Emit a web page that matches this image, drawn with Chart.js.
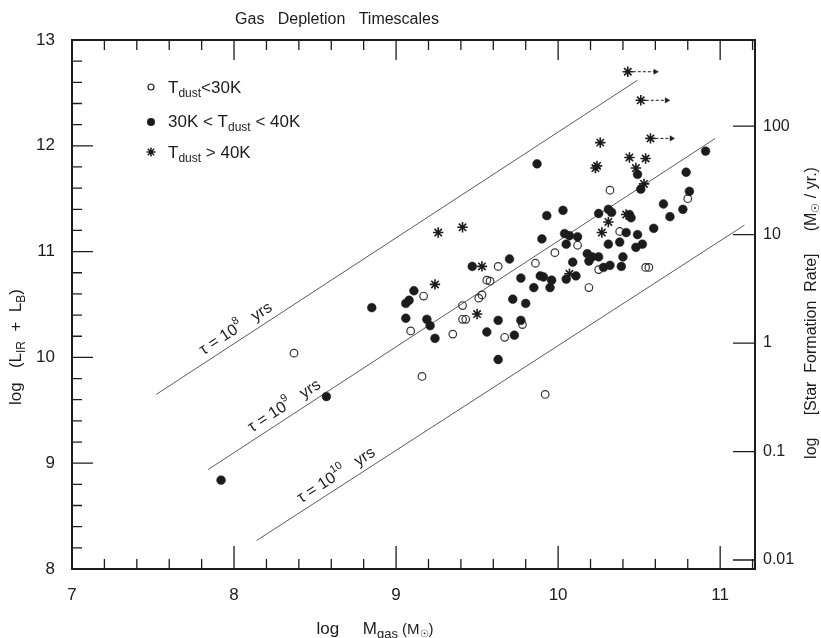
<!DOCTYPE html>
<html>
<head>
<meta charset="utf-8">
<script src="https://cdn.jsdelivr.net/npm/chart.js@4.4.1/dist/chart.umd.min.js"></script>
<style>
  html, body { margin: 0; padding: 0; background: #fff; }
</style>
</head>
<body>
<canvas id="chart" width="821" height="638"></canvas>
<script>
// ==================== DATA ====================
// T_dust < 30K  (open circles)
const coolMgas = [8.37, 9.16, 9.17, 9.09, 9.35, 9.41, 9.41, 9.43, 9.51, 9.53, 9.56, 9.58, 9.63,
  9.67, 9.78, 9.86, 9.98, 9.92, 10.12, 10.19, 10.25, 10.32, 10.38, 10.54, 10.56, 10.80];
const coolLum = [10.04, 9.82, 10.58, 10.25, 10.22, 10.49, 10.36, 10.36, 10.56, 10.59, 10.73, 10.72, 10.86,
  10.19, 10.31, 10.89, 10.99, 9.65, 11.06, 10.66, 10.83, 11.58, 11.19, 10.85, 10.85, 11.50];

// 30K < T_dust < 40K  (filled circles)
const warmMgas = [7.92, 8.57, 8.85, 9.06, 9.08, 9.11, 9.06, 9.19, 9.21, 9.24, 9.47, 9.56, 9.63, 9.63,
  9.70, 9.72, 9.73, 9.77, 9.80, 9.77, 9.85, 9.87, 9.90, 9.89, 9.91, 9.93, 9.95, 9.96, 10.03, 10.04,
  10.07, 10.05, 10.12, 10.09, 10.05, 10.11, 10.18, 10.21, 10.19, 10.25, 10.28, 10.32, 10.40, 10.39,
  10.25, 10.31, 10.33, 10.42, 10.49, 10.31, 10.38, 10.44, 10.45, 10.48, 10.52, 10.59, 10.65, 10.69,
  10.77, 10.49, 10.51, 10.79, 10.81, 10.91];
const warmLum = [8.84, 9.63, 10.47, 10.51, 10.54, 10.63, 10.37, 10.36, 10.30, 10.18, 10.86, 10.24, 9.98, 10.35,
  10.93, 10.55, 10.21, 10.35, 10.51, 10.75, 10.66, 11.83, 11.12, 10.77, 10.76, 11.34, 10.66, 10.73, 11.39, 11.17,
  11.15, 11.07, 11.14, 10.90, 10.74, 10.77, 10.98, 10.95, 10.91, 10.95, 10.85, 10.87, 10.95, 10.86,
  11.36, 11.40, 11.37, 11.18, 11.16, 11.07, 11.09, 11.35, 11.32, 11.04, 11.07, 11.22, 11.45, 11.33,
  11.40, 11.73, 11.59, 11.75, 11.57, 11.95];

// T_dust > 40K  (asterisks)
const hotMgas = [9.24, 9.50, 9.53, 9.26, 9.41, 10.07, 10.27, 10.31, 10.42, 10.26, 10.24, 10.23,
  10.44, 10.54, 10.48, 10.53];
const hotLum = [10.69, 10.41, 10.86, 11.18, 11.23, 10.79, 11.18, 11.28, 11.35, 12.03, 11.81, 11.79,
  11.89, 11.88, 11.79, 11.64];

// T_dust > 40K with lower limits on the gas mass (asterisk + arrow)
const limitMgas = [10.43, 10.51, 10.57];
const limitLum = [12.70, 12.43, 12.07];
const limitArrowTo = [10.60, 10.67, 10.70];

// constant depletion time lines
const tauExponents = ['8', '9', '10'];
const tauMgas = [[7.52, 10.49], [7.84, 10.97], [8.14, 11.15]];
const tauLum = [[9.65, 12.62], [8.94, 12.07], [8.27, 11.25]];

// axes
const xTickValues = [7, 8, 9, 10, 11];
const xTickLabels = ['7', '8', '9', '10', '11'];
const yTickValues = [8, 9, 10, 11, 12, 13];
const yTickLabels = ['8', '9', '10', '11', '12', '13'];
const sfrTickValues = [-2, -1, 0, 1, 2];
const sfrTickLabels = ['0.01', '0.1', '1', '10', '100'];

// ==================== STYLE ====================
const INK = '#1c1c1c';
const LINE = '#5a5a5a';
const FONT = '"Liberation Sans", Arial, sans-serif';
const MINOR = 0.2;

const font = (size) => `${size}px ${FONT}`;

function drawRich(ctx, parts, x, y, align) {
  let w = 0;
  parts.forEach((p) => {
    ctx.font = font(p.size);
    p.w = ctx.measureText(p.t).width;
    w += p.w;
  });
  let cx = align === 'center' ? x - w / 2 : align === 'right' ? x - w : x;
  parts.forEach((p) => {
    ctx.font = font(p.size);
    ctx.fillText(p.t, cx, y + (p.dy || 0));
    cx += p.w;
  });
}

const isMajor = (v) => Math.abs(v - Math.round(v)) < 1e-6;

// frame and inward ticks
const framePlugin = {
  id: 'frame',
  afterDatasetsDraw(chart) {
    const { ctx, chartArea: a } = chart;
    const sx = chart.scales.x, sy = chart.scales.y, ss = chart.scales.sfr;
    ctx.save();
    ctx.strokeStyle = INK;
    ctx.lineWidth = 1.3;
    ctx.beginPath();
    for (let k = 0; ; k++) {
      const v = sx.min + k * MINOR;
      if (v > sx.max + 1e-9) break;
      const px = sx.getPixelForValue(v);
      ctx.moveTo(px, a.bottom);
      ctx.lineTo(px, a.bottom - (isMajor(v) ? 23 : 10));
      ctx.moveTo(px, a.top);
      ctx.lineTo(px, a.top + (isMajor(v) ? 20 : 10));
    }
    for (let k = 0; ; k++) {
      const v = sy.min + k * MINOR;
      if (v > sy.max + 1e-9) break;
      const py = sy.getPixelForValue(v);
      ctx.moveTo(a.left, py);
      ctx.lineTo(a.left + (isMajor(v) ? 21 : 10), py);
    }
    sfrTickValues.forEach((v) => {
      const py = ss.getPixelForValue(v);
      ctx.moveTo(a.right, py);
      ctx.lineTo(a.right - 22, py);
    });
    ctx.stroke();
    ctx.lineWidth = 2;
    ctx.strokeRect(a.left, a.top, a.right - a.left, a.bottom - a.top);
    ctx.restore();
  },
};

// titles, legend and line labels (need sub/superscripts)
const textPlugin = {
  id: 'texts',
  afterDraw(chart) {
    const { ctx, chartArea: a } = chart;
    const sx = chart.scales.x, sy = chart.scales.y;
    ctx.save();
    ctx.fillStyle = INK;
    ctx.strokeStyle = INK;
    ctx.textBaseline = 'alphabetic';

    // main title
    drawRich(ctx, [{ t: 'Gas   Depletion   Timescales', size: 16 }], 337, 24, 'center');

    // x title
    drawRich(ctx, [
      { t: 'log     M', size: 17 },
      { t: 'gas', size: 13, dy: 4 },
      { t: ' (M', size: 15 },
      { t: '☉', size: 10, dy: 3 },
      { t: ')', size: 15 },
    ], 375, 634, 'center');

    // left title
    ctx.save();
    ctx.translate(21, 347);
    ctx.rotate(-Math.PI / 2);
    drawRich(ctx, [
      { t: 'log   (L', size: 17 },
      { t: 'IR', size: 12, dy: 4 },
      { t: '  +  L', size: 17 },
      { t: 'B', size: 12, dy: 4 },
      { t: ')', size: 17 },
    ], 0, 0, 'center');
    ctx.restore();

    // right title
    ctx.save();
    ctx.translate(816, 313);
    ctx.rotate(-Math.PI / 2);
    drawRich(ctx, [
      { t: 'log     [Star  Formation  Rate]     (M', size: 16 },
      { t: '☉', size: 11, dy: 3 },
      { t: ' / yr.)', size: 16 },
    ], 0, 0, 'center');
    ctx.restore();

    // legend
    const lx = a.left + 79, tx = a.left + 96;
    ctx.lineWidth = 1.2;
    ctx.beginPath();
    ctx.arc(lx, a.top + 47, 3, 0, Math.PI * 2);
    ctx.stroke();
    ctx.beginPath();
    ctx.arc(lx, a.top + 82, 4, 0, Math.PI * 2);
    ctx.fill();
    ctx.lineWidth = 1.5;
    ctx.beginPath();
    for (let k = 0; k < 4; k++) {
      const ang = (k * Math.PI) / 4;
      ctx.moveTo(lx - 4.5 * Math.cos(ang), a.top + 112 - 4.5 * Math.sin(ang));
      ctx.lineTo(lx + 4.5 * Math.cos(ang), a.top + 112 + 4.5 * Math.sin(ang));
    }
    ctx.stroke();
    drawRich(ctx, [{ t: 'T', size: 17 }, { t: 'dust', size: 12, dy: 4 }, { t: '<30K', size: 17 }], tx, a.top + 53, 'left');
    drawRich(ctx, [{ t: '30K < T', size: 17 }, { t: 'dust', size: 12, dy: 4 }, { t: ' < 40K', size: 17 }], tx, a.top + 87, 'left');
    drawRich(ctx, [{ t: 'T', size: 17 }, { t: 'dust', size: 12, dy: 4 }, { t: ' > 40K', size: 17 }], tx, a.top + 118, 'left');

    // tau labels sitting on the lines
    const labelAt = [8.05, 8.35, 8.67];
    tauExponents.forEach((e, i) => {
      const x0 = sx.getPixelForValue(tauMgas[i][0]), y0 = sy.getPixelForValue(tauLum[i][0]);
      const x1 = sx.getPixelForValue(tauMgas[i][1]), y1 = sy.getPixelForValue(tauLum[i][1]);
      const ang = Math.atan2(y1 - y0, x1 - x0);
      const f = (labelAt[i] - tauMgas[i][0]) / (tauMgas[i][1] - tauMgas[i][0]);
      ctx.save();
      ctx.translate(x0 + f * (x1 - x0), y0 + f * (y1 - y0));
      ctx.rotate(ang);
      drawRich(ctx, [
        { t: 'τ = 10', size: 16 },
        { t: e, size: 11, dy: -8 },
        { t: '   yrs', size: 16 },
      ], 0, -7, 'center');
      ctx.restore();
    });
    ctx.restore();
  },
};

const pts = (xs, ys) => xs.map((x, i) => ({ x, y: ys[i] }));

const datasets = [
  {
    label: '30K < Tdust < 40K',
    data: pts(warmMgas, warmLum),
    pointStyle: 'circle',
    pointRadius: 4.4,
    backgroundColor: INK,
    borderColor: INK,
    borderWidth: 0.5,
    order: 1,
  },
  {
    label: 'Tdust < 30K',
    data: pts(coolMgas, coolLum),
    pointStyle: 'circle',
    pointRadius: 3.8,
    backgroundColor: 'rgba(0,0,0,0)',
    borderColor: '#333',
    borderWidth: 1.2,
    order: 1,
  },
  {
    label: 'Tdust > 40K',
    data: pts(hotMgas.concat(limitMgas), hotLum.concat(limitLum)),
    pointStyle: 'star',
    pointRadius: 5.2,
    borderColor: INK,
    borderWidth: 1.6,
    order: 1,
  },
  {
    label: 'arrow heads',
    data: pts(limitArrowTo, limitLum),
    pointStyle: 'triangle',
    rotation: 90,
    pointRadius: 3,
    backgroundColor: INK,
    borderColor: INK,
    borderWidth: 0.5,
    order: 1,
  },
];
limitMgas.forEach((x, i) => {
  datasets.push({
    type: 'line',
    label: 'limit ' + i,
    data: [{ x, y: limitLum[i] }, { x: limitArrowTo[i], y: limitLum[i] }],
    borderColor: INK,
    borderWidth: 1,
    borderDash: [3, 2],
    pointRadius: 0,
    order: 3,
  });
});
tauExponents.forEach((e, i) => {
  datasets.push({
    type: 'line',
    label: 'tau 10^' + e,
    data: pts(tauMgas[i], tauLum[i]),
    borderColor: LINE,
    borderWidth: 1,
    pointRadius: 0,
    order: 5,
  });
});

const tickFont = { family: FONT, size: 17 };

new Chart(document.getElementById('chart'), {
  type: 'scatter',
  data: { datasets },
  options: {
    responsive: false,
    animation: false,
    devicePixelRatio: 1,
    layout: { padding: { top: 40, left: 0, right: 0, bottom: 0 } },
    plugins: { legend: { display: false }, tooltip: { enabled: false } },
    scales: {
      x: {
        type: 'linear',
        position: 'bottom',
        min: 7,
        max: 11.215,
        afterBuildTicks: (s) => { s.ticks = xTickValues.map((v) => ({ value: v })); },
        afterFit: (s) => { s.height = 69; },
        grid: { display: false, drawTicks: false },
        border: { display: false },
        ticks: {
          autoSkip: false,
          maxRotation: 0,
          padding: 16,
          color: INK,
          font: tickFont,
          callback: (v) => xTickLabels[xTickValues.indexOf(v)],
        },
      },
      y: {
        type: 'linear',
        position: 'left',
        min: 8,
        max: 13,
        afterBuildTicks: (s) => { s.ticks = yTickValues.map((v) => ({ value: v })); },
        afterFit: (s) => { s.width = 72; },
        grid: { display: false, drawTicks: false },
        border: { display: false },
        ticks: {
          autoSkip: false,
          padding: 17,
          color: INK,
          font: tickFont,
          callback: (v) => yTickLabels[yTickValues.indexOf(v)],
        },
      },
      sfr: {
        type: 'linear',
        position: 'right',
        min: -2.083,
        max: 2.794,
        afterBuildTicks: (s) => { s.ticks = sfrTickValues.map((v) => ({ value: v })); },
        afterFit: (s) => { s.width = 66; },
        grid: { display: false, drawTicks: false },
        border: { display: false },
        ticks: {
          autoSkip: false,
          padding: 8,
          color: INK,
          font: { family: FONT, size: 16 },
          callback: (v) => sfrTickLabels[sfrTickValues.indexOf(v)],
        },
      },
    },
  },
  plugins: [framePlugin, textPlugin],
});
</script>
</body>
</html>
